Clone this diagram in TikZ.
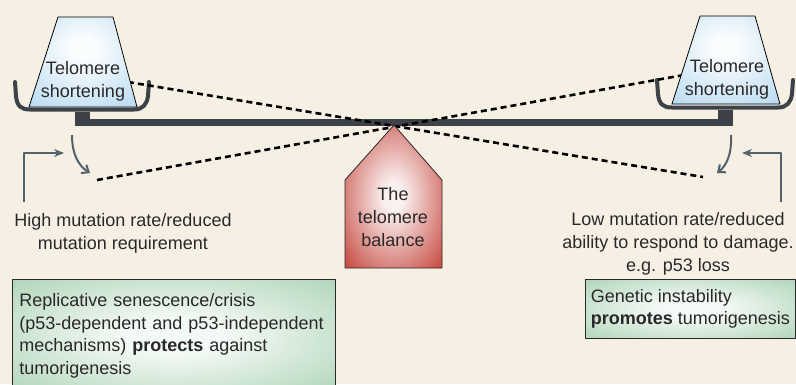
\documentclass[tikz,border=0pt]{standalone}
\usepackage{fontspec}
\setmainfont{Liberation Sans}
\usetikzlibrary{arrows.meta}

\definecolor{paper}{HTML}{F5EFE4}
\definecolor{steel}{HTML}{3C4248}
\definecolor{arrowgray}{HTML}{56626B}
\definecolor{inkgray}{HTML}{2B2829}
\definecolor{iceblue}{HTML}{B2D7EF}
\definecolor{brick}{HTML}{C4433A}
\definecolor{sage}{HTML}{9CCBA7}
\colorlet{icecore}{white!94!iceblue}
\colorlet{blushcore}{white!92!brick}
\colorlet{sagecore}{white!88!sage}

% soft radial glows
\pgfdeclareradialshading{iceglow}{\pgfpoint{0bp}{8bp}}{color(0bp)=(icecore); color(6bp)=(icecore); color(42bp)=(iceblue); color(100bp)=(iceblue)}
\pgfdeclareradialshading{fulcrumglow}{\pgfpoint{0bp}{0bp}}{color(0bp)=(blushcore); color(5bp)=(blushcore); color(36bp)=(brick); color(100bp)=(brick)}
\pgfdeclareradialshading{greenglow}{\pgfpoint{0bp}{0bp}}{color(0bp)=(sagecore); color(8bp)=(sagecore); color(44bp)=(sage); color(100bp)=(sage)}

\begin{document}
\begin{tikzpicture}[
        x=1pt, y=-1pt,
        line join=round,
        font=\fontsize{18}{22.8}\selectfont,
        every node/.style={text=inkgray},
        % styles
        weight/.style={draw=black, line width=0.8pt, shade, shading=iceglow},
        pan/.style={draw=steel, line width=4pt, line cap=round},
        tilt/.style={black, line width=2.6pt, dash pattern=on 6pt off 4pt},
        swing/.style={arrowgray, line width=2pt, -{Straight Barb[length=6pt,width=10pt]}},
        feed/.style={arrowgray, line width=2pt, -{Stealth[length=10pt,width=8pt]}},
        caption/.style={align=center, inner sep=0pt},
        outcome/.style={draw=inkgray, line width=0.8pt, shade, shading=greenglow, align=left},
    ]

    \useasboundingbox (0,0) rectangle (796,384);
    \fill[paper] (0,0) rectangle (796,384);

    % key points
    \coordinate (pivot) at (394,125);
    \coordinate (upL) at (128,82);
    \coordinate (downR) at (703,177);
    \coordinate (downL) at (97,180);
    \coordinate (upR) at (684,75);

    % beam and posts
    \fill[steel] (90,119) rectangle (718,125.5);
    \fill[steel] (75,112) rectangle (90,125.5);
    \fill[steel] (718,110) rectangle (733,125.5);

    % pans
    \draw[pan] (15,82) -- (16,96) .. controls (17,106) and (21,109.5) .. (30,109.5)
        -- (134,109.5) .. controls (143,109.5) and (147,104) .. (148,96) -- (149,82);
    \draw[pan] (657,80) -- (658,94) .. controls (659,104) and (663,107.5) .. (672,107.5)
        -- (778,107.5) .. controls (787,107.5) and (791,102) .. (792,94) -- (793,80);

    % tilted positions
    \draw[tilt] (upL) -- (downR);
    \draw[tilt] (downL) -- (upR);

    % weights
    \path[weight] (29,107) -- (137,107) -- (113,17) -- (58,17) -- cycle;
    \path[weight] (672,104) -- (780,104) -- (755,16) -- (700,16) -- cycle;
    \node[caption] (shortL) at (83,81) {Telomere\\shortening};
    \node[caption] (shortR) at (727,79) {Telomere\\shortening};

    % fulcrum
    \path[draw=inkgray, line width=0.8pt, shade, shading=fulcrumglow]
        (pivot) -- (442,180) -- (442,268) -- (345,268) -- (345,180) -- cycle;
    \node[caption] (balance) at (393,217) {The\\telomere\\balance};

    % swing arrows
    \coordinate (swingLtop) at (72,135);
    \coordinate (swingLend) at (90,173);
    \coordinate (swingRtop) at (731,135);
    \coordinate (swingRend) at (717,173);
    \draw[swing] (swingLtop) .. controls (72,155) and (79,166) .. (swingLend);
    \draw[swing] (swingRtop) .. controls (732,155) and (726,166) .. (swingRend);

    % feedback arrows
    \coordinate (footL) at (24,202);
    \coordinate (hookL) at (64,153);
    \coordinate (footR) at (781,202);
    \coordinate (hookR) at (742,153);
    \draw[feed] (footL) |- (hookL);
    \draw[feed] (footR) |- (hookR);

    % outcomes
    \node[caption] (highrate) at (123,233.5) {High mutation rate/reduced\\mutation requirement};
    \node[caption] (lowrate) at (678,244) {Low mutation rate/reduced\\ability to respond to damage.\\e.g. p53 loss};

    \node[outcome, anchor=north west, text width=309pt, inner xsep=7pt,
          minimum height=113pt] (protects) at (12,279)
        {Replicative senescence/crisis\\(p53-dependent and p53-independent\\mechanisms) \textbf{protects} against\\tumorigenesis};
    \node[outcome, anchor=north west, minimum width=210pt, minimum height=59pt,
          inner xsep=4pt] (promotes) at (585,279)
        {Genetic instability\\\textbf{promotes} tumorigenesis};
\end{tikzpicture}
\end{document}
